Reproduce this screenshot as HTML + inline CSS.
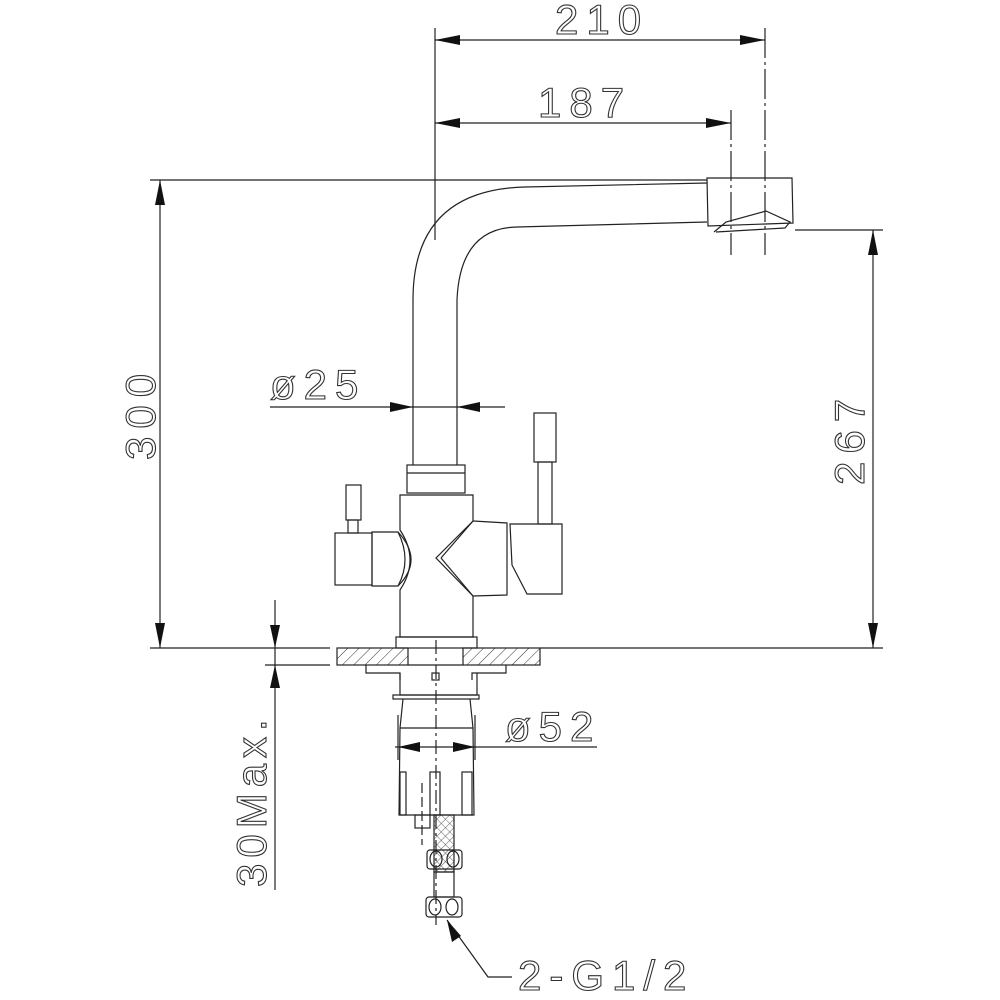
<!DOCTYPE html>
<html><head><meta charset="utf-8"><style>
html,body{margin:0;padding:0;background:#fff}
svg{display:block}
text{font-family:"Liberation Sans",sans-serif;fill:none;stroke:#333;stroke-width:1.1}
</style></head><body>
<svg width="1000" height="1000" viewBox="0 0 1000 1000" xmlns="http://www.w3.org/2000/svg">
<defs>
<pattern id="h" width="8" height="8" patternUnits="userSpaceOnUse" patternTransform="rotate(45)">
<line x1="0" y1="0" x2="0" y2="8" stroke="#333" stroke-width="1"/></pattern>
<pattern id="x" width="6" height="6" patternUnits="userSpaceOnUse" patternTransform="rotate(45)">
<path d="M0 0V6M0 0H6" stroke="#333" stroke-width="0.8" fill="none"/></pattern>
</defs>
<g stroke="#222" stroke-width="1.2" fill="none">
<line x1="435" y1="28" x2="435" y2="240"/>
<line x1="765" y1="28" x2="765" y2="255" stroke-dasharray="30 4 3 4"/>
<line x1="731" y1="110" x2="731" y2="255" stroke-dasharray="30 4 3 4"/>
<line x1="435" y1="40" x2="765" y2="40"/>
<line x1="435" y1="123" x2="731" y2="123"/>
<line x1="150" y1="180" x2="707" y2="180"/>
<line x1="160" y1="180" x2="160" y2="648"/>
<line x1="150" y1="648" x2="330" y2="648"/>
<line x1="540" y1="648" x2="883" y2="648"/>
<line x1="795" y1="230" x2="883" y2="230"/>
<line x1="873" y1="230" x2="873" y2="648"/>
<line x1="270" y1="407" x2="505" y2="407"/>
<line x1="275" y1="600" x2="275" y2="890"/>
<line x1="265" y1="665" x2="330" y2="665"/>
<line x1="395" y1="747" x2="597" y2="747"/>
<line x1="398" y1="715" x2="398" y2="760"/>
<line x1="475" y1="715" x2="475" y2="760"/>
<polyline points="447,920 488,977 512,977"/>
<path d="M413,465 L413,300 Q413,190 525,187 L707,183"/>
<path d="M457,465 L457,300 Q460,228 517,227 L707,222"/>
<path d="M707,178 L792,178 L793,223 L708,226 Z"/>
<path d="M714,232 L726,222 L766,211 L790,222 L785,228 L716,232"/>
<rect x="407" y="465" width="58" height="28"/>
<line x1="407" y1="473" x2="465" y2="473"/>
<path d="M400,495 L400,530 Q420,560 400,590 L400,637 L473,637 L473,596 L436,558 L473,521 L473,495 Z"/>
<path d="M372,532 L398,532 Q424,560 398,586 L372,586 Z"/>
<path d="M398,532 Q412,560 398,586"/>
<rect x="335" y="533" width="37" height="52"/>
<rect x="348" y="520" width="10" height="13"/>
<rect x="346" y="485" width="15" height="35"/>
<path d="M473,521 L507,523 L507,595 L473,596"/>
<line x1="473" y1="521" x2="441" y2="558"/>
<line x1="473" y1="596" x2="441" y2="558"/>
<path d="M510,524 L562,524 L562,594 L527,594 L512,565 Z"/>
<rect x="538" y="462" width="14" height="62"/>
<rect x="534" y="413" width="22" height="49"/>
<rect x="396" y="637" width="81" height="11"/>
<rect x="337" y="648" width="71" height="17" fill="url(#h)"/>
<rect x="463" y="648" width="77" height="17" fill="url(#h)"/>
<line x1="408" y1="665" x2="463" y2="665"/>
<path d="M366,665 L366,673 L400,673 L400,680 M506,665 L506,673 L472,673 L472,680"/>
<path d="M400,673 L400,695 L477,695 L477,673"/>
<rect x="432" y="673" width="7" height="7"/>
<rect x="393" y="695" width="86" height="4"/>
<path d="M403,699 L400,728 L399,815 L474,815 L473,728 L470,699"/>
<line x1="400" y1="728" x2="473" y2="728"/>
<rect x="400" y="772" width="6" height="43"/>
<rect x="430" y="772" width="10" height="43"/>
<rect x="462" y="772" width="10" height="43"/>
<line x1="422" y1="783" x2="422" y2="845" stroke-dasharray="10 4"/>
<rect x="415" y="815" width="15" height="13"/>
<rect x="434" y="815" width="20" height="57" fill="url(#x)"/>
<rect x="427" y="850" width="35" height="19" rx="3"/>
<ellipse cx="436" cy="859" rx="6" ry="8"/><ellipse cx="453" cy="859" rx="6" ry="8"/>
<rect x="434" y="872" width="20" height="25"/>
<rect x="426" y="897" width="36" height="20" rx="3"/>
<ellipse cx="435" cy="907" rx="6" ry="8"/><ellipse cx="452" cy="907" rx="6" ry="8"/>
<line x1="436" y1="640" x2="436" y2="925" stroke-dasharray="14 4 3 4"/>
</g>
<g fill="#111">
<polygon points="435,40 460,35 460,45"/><polygon points="765,40 740,35 740,45"/>
<polygon points="435,123 460,118 460,128"/><polygon points="731,123 706,118 706,128"/>
<polygon points="160,180 155,205 165,205"/><polygon points="160,648 155,623 165,623"/>
<polygon points="873,230 868,255 878,255"/><polygon points="873,648 868,623 878,623"/>
<polygon points="413,407 390,402 390,412"/><polygon points="457,407 480,402 480,412"/>
<polygon points="275,648 270,625 280,625"/><polygon points="275,665 270,688 280,688"/>
<polygon points="398,747 420,742 420,752"/><polygon points="475,747 453,742 453,752"/>
<polygon points="447,920 452,942 461,936"/>
</g>
<text x="555" y="34" font-size="42" letter-spacing="8">210</text>
<text x="538" y="117" font-size="42" letter-spacing="8">187</text>
<text x="270" y="399" font-size="42" letter-spacing="8">ø25</text>
<text x="505" y="741" font-size="42" letter-spacing="8">ø52</text>
<text x="518" y="990" font-size="42" letter-spacing="8">2-G1/2</text>
<text transform="translate(155,460) rotate(-90)" font-size="42" letter-spacing="8">300</text>
<text transform="translate(864,485) rotate(-90)" font-size="42" letter-spacing="8">267</text>
<text transform="translate(266,887) rotate(-90)" font-size="42" letter-spacing="6">30Max.</text>
</svg>
</body></html>
